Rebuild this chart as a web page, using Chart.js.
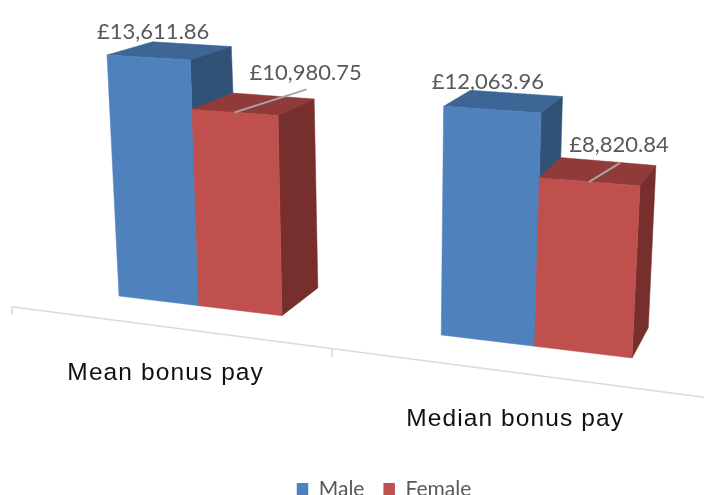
<!DOCTYPE html>
<html>
<head>
<meta charset="utf-8">
<style>
html,body{margin:0;padding:0;background:#fff;overflow:hidden}
#wrap{position:relative;width:704px;height:495px;overflow:hidden}
canvas{display:block}
</style>
<script src="https://cdn.jsdelivr.net/npm/chart.js@4/dist/chart.umd.min.js"></script>
</head>
<body>
<div id="wrap"><canvas id="c" width="704" height="495"></canvas></div>
<script>
// ---- data ----
const categories = ['Mean bonus pay', 'Median bonus pay'];
const seriesNames = ['Male', 'Female'];
const maleValues = [13611.86, 12063.96];
const femaleValues = [10980.75, 8820.84];
const yMax = 14000;

// ---- styles ----
const faceColors = [
  {front:'#4f81bd', top:'#3d6696', side:'#305277'},
  {front:'#c0504d', top:'#903b39', side:'#772f2d'}
];
const labelColor = '#595959', axisColor = '#d9d9d9', leaderColor = '#a6a6a6';
const valueFont = '22px Lato', categoryFont = '24.5px "Liberation Sans"';

// Projection of the flat plot rectangle (u,v in 0..1) on to the tilted picture plane
const anchorsFrom = [[.11875,0],[.88125,0],[.11875,.97228],[.88125,.63006]];
const anchorsTo   = [[119,296],[632,358],[107,55],[640,186]];
const vanish = [923,-181], depth = .056, axisPush = .05;

function solve(A,b){
  const n=b.length;const M=A.map((r,i)=>[...r,b[i]]);
  for(let i=0;i<n;i++){
    let p=i;for(let r=i+1;r<n;r++)if(Math.abs(M[r][i])>Math.abs(M[p][i]))p=r;
    [M[i],M[p]]=[M[p],M[i]];
    for(let r=0;r<n;r++){if(r===i)continue;const f=M[r][i]/M[i][i];
      for(let c=i;c<=n;c++)M[r][c]-=f*M[i][c];}
  }
  return M.map((r,i)=>r[n]/r[i]);
}
const H=(()=>{const A=[],b=[];
  anchorsFrom.forEach(([u,v],i)=>{const [x,y]=anchorsTo[i];
    A.push([u,v,1,0,0,0,-u*x,-v*x]);b.push(x);
    A.push([0,0,0,u,v,1,-u*y,-v*y]);b.push(y);});
  return solve(A,b);})();
function project(u,v){const w=H[6]*u+H[7]*v+1;
  return [(H[0]*u+H[1]*v+H[2])/w,(H[3]*u+H[4]*v+H[5])/w];}
function toward(p,t){return [p[0]+(vanish[0]-p[0])*t,p[1]+(vanish[1]-p[1])*t];}

function poly(ctx,pts,fill){ctx.beginPath();pts.forEach((p,i)=>i?ctx.lineTo(p[0],p[1]):ctx.moveTo(p[0],p[1]));
  ctx.closePath();ctx.fillStyle=fill;ctx.fill();ctx.strokeStyle=fill;ctx.lineWidth=.5;ctx.stroke();}

// label centre offset from the front-top edge middle, per series/category
const maleLabelOffset = [[5,-26],[-4,-28]];
const femaleLeaderEnd = [[72,-23],[31,-19]];
const femaleLabelGap = [-16,-18];
const femaleLabelShift = [-1,-1];
const categoryDrop = [47,46];
const categoryShift = [3,0];

const bars3d = {
  id:'bars3d',
  afterLayout(chart){
    const lg=chart.legend; lg.left+=32; lg.right+=32; lg.top=chart.height-35; lg.bottom=chart.height+20;
  },
  beforeDatasetsDraw(chart){
    const ctx=chart.ctx, a=chart.chartArea, W=a.right-a.left;
    const yS=chart.scales.y, y0=yS.getPixelForValue(0);
    const N=(px,py)=>project((px-a.left)/W,(y0-py)/(y0-a.top));
    ctx.save();
    // category axis
    const ax=u=>{const p=toward(project(u,0),-axisPush);return [p[0],p[1]-5+7*u];};
    const xS=chart.scales.x;
    ctx.strokeStyle=axisColor;ctx.lineWidth=1.5;
    ctx.beginPath();ctx.moveTo(...ax(.01));ctx.lineTo(...ax(1));ctx.stroke();
    [.01,.5,1].forEach(u=>{const p=ax(u);ctx.beginPath();ctx.moveTo(p[0],p[1]);ctx.lineTo(p[0],p[1]+8);ctx.stroke();});
    ctx.fillStyle='#111';ctx.font=categoryFont;ctx.textAlign='center';ctx.textBaseline='middle';
    ctx.letterSpacing='1.1px';
    categories.forEach((c,i)=>{const u=(xS.getPixelForValue(i)-a.left)/W;const p=ax(u);
      ctx.fillText(c,p[0]+categoryShift[i],p[1]+categoryDrop[i]);});
    ctx.letterSpacing='0px';
    // bars, painter's order
    categories.forEach((c,i)=>{
      [0,1].forEach(d=>{
        const el=chart.getDatasetMeta(d).data[i];
        const hw=el.width/2, col=faceColors[d];
        const TL=N(el.x-hw,el.y),TR=N(el.x+hw,el.y),BR=N(el.x+hw,y0),BL=N(el.x-hw,y0);
        poly(ctx,[TL,TR,toward(TR,depth),toward(TL,depth)],col.top);
        poly(ctx,[TR,BR,toward(BR,depth),toward(TR,depth)],col.side);
        poly(ctx,[TL,TR,BR,BL],col.front);
      });
    });
    // value labels
    ctx.font=valueFont;ctx.textAlign='center';ctx.textBaseline='middle';
    const fmt=v=>'£'+v.toLocaleString('en-GB',{minimumFractionDigits:2,maximumFractionDigits:2});
    categories.forEach((c,i)=>{
      [0,1].forEach(d=>{
        const el=chart.getDatasetMeta(d).data[i];
        const m=N(el.x,el.y);
        const v=chart.data.datasets[d].data[i];
        if(d===0){
          ctx.fillStyle=labelColor;
          ctx.fillText(fmt(v),m[0]+maleLabelOffset[i][0],m[1]+maleLabelOffset[i][1]);
        }else{
          const e=[m[0]+femaleLeaderEnd[i][0],m[1]+femaleLeaderEnd[i][1]];
          ctx.strokeStyle=leaderColor;ctx.lineWidth=2;
          ctx.beginPath();ctx.moveTo(m[0],m[1]);ctx.lineTo(e[0],e[1]);ctx.stroke();
          ctx.fillStyle=labelColor;
          ctx.fillText(fmt(v),e[0]+femaleLabelShift[i],e[1]+femaleLabelGap[i]);
        }
      });
    });
    ctx.restore();
    return false;
  }
};

new Chart(document.getElementById('c'),{
  type:'bar',
  data:{labels:categories,datasets:[
    {label:seriesNames[0],data:maleValues,backgroundColor:faceColors[0].front,categoryPercentage:.525,barPercentage:1},
    {label:seriesNames[1],data:femaleValues,backgroundColor:faceColors[1].front,categoryPercentage:.525,barPercentage:1}
  ]},
  options:{
    responsive:false,animation:false,
    scales:{x:{display:false},y:{display:false,min:0,max:yMax}},
    plugins:{
      tooltip:{enabled:false},
      legend:{position:'bottom',labels:{boxWidth:11.5,boxHeight:13,padding:19,color:labelColor,font:{family:'Lato',size:21}}}
    }
  },
  plugins:[bars3d]
});
</script>
</body>
</html>
